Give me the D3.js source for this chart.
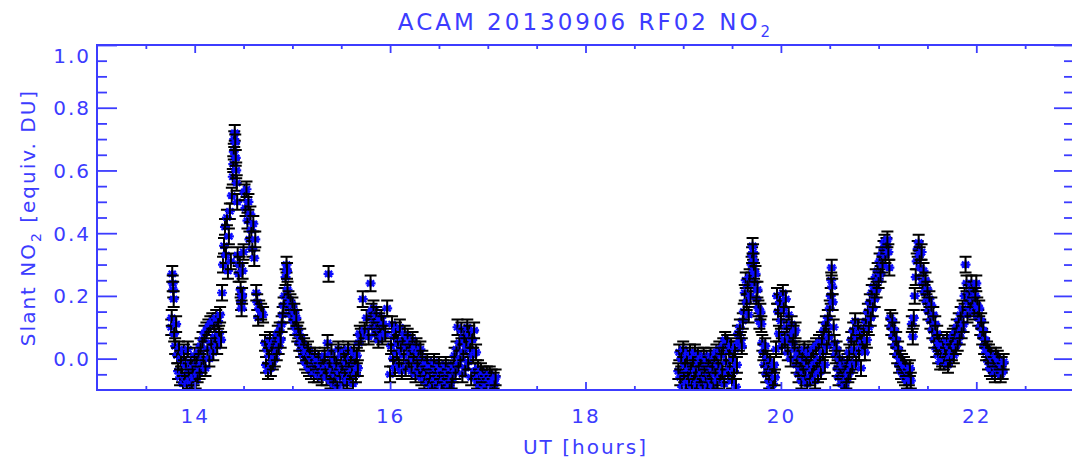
<!DOCTYPE html>
<html>
<head>
<meta charset="utf-8">
<script src="https://cdn.jsdelivr.net/npm/d3@7"></script>
<style>
  body { margin: 0; background: #fff; }
  svg { display: block; }
  text { font-family: "DejaVu Sans", sans-serif; fill: #3c3cff; }
</style>
</head>
<body>
<div id="container"></div>
<script>
// first flight leg (UT hours / slant NO2)
let utA = [
  13.76,13.765,13.77,13.775,13.78,13.785,13.79,13.80,13.81,13.82,
  13.83,13.84,13.85,13.86,13.87,13.88,13.89,13.90,13.91,13.92,
  13.93,13.94,13.95,13.96,13.97,13.98,13.99,14.00,14.01,14.02,
  14.03,14.04,14.05,14.06,14.07,14.08,14.09,14.10,14.11,14.12,
  14.13,14.14,14.15,14.16,14.17,14.18,14.19,14.20,14.21,14.22,
  14.23,14.24,14.25,14.26,14.27,14.28,14.29,14.30,14.31,14.32,
  14.33,14.34,14.35,14.36,14.37,14.38,14.39,14.395,14.40,14.405,
  14.41,14.415,14.42,14.425,14.43,14.435,14.44,14.45,14.46,14.47,
  14.475,14.48,14.485,14.49,14.50,14.51,14.52,14.53,14.54,14.55,
  14.56,14.57,14.58,14.59,14.60,14.61,14.62,14.63,14.64,14.65,
  14.66,14.68,14.70,14.72,14.73,14.74,14.75,14.76,14.77,14.78,
  14.79,14.80,14.81,14.82,14.83,14.84,14.85,14.86,14.87,14.88,
  14.89,14.90,14.91,14.92,14.93,14.94,14.945,14.95,14.96,14.97,
  14.98,14.99,15.00,15.01,15.02,15.03,15.04,15.05,15.06,15.07,
  15.08,15.09,15.10,15.11,15.12,15.13,15.14,15.15,15.16,15.17,
  15.18,15.19,15.20,15.21,15.22,15.23,15.24,15.25,15.26,15.27,
  15.28,15.29,15.30,15.31,15.32,15.33,15.34,15.35,15.36,15.37,
  15.38,15.39,15.40,15.41,15.42,15.43,15.44,15.45,15.46,15.47,
  15.48,15.49,15.50,15.51,15.52,15.53,15.54,15.55,15.56,15.57,
  15.58,15.59,15.60,15.61,15.62,15.63,15.64,15.65,15.66,15.67,
  15.68,15.69,15.70,15.72,15.74,15.76,15.78,15.80,15.81,15.82,
  15.83,15.84,15.85,15.86,15.87,15.88,15.89,15.90,15.91,15.92,
  15.93,15.95,15.97,16.00,16.01,16.02,16.03,16.04,16.05,16.06,
  16.07,16.08,16.09,16.10,16.11,16.12,16.13,16.14,16.15,16.16,
  16.17,16.18,16.19,16.20,16.21,16.22,16.23,16.24,16.25,16.26,
  16.27,16.28,16.29,16.30,16.31,16.32,16.33,16.34,16.35,16.36,
  16.37,16.38,16.39,16.40,16.41,16.42,16.43,16.44,16.45,16.46,
  16.47,16.48,16.49,16.50,16.51,16.52,16.53,16.54,16.55,16.56,
  16.57,16.58,16.59,16.60,16.61,16.62,16.63,16.64,16.65,16.66,
  16.67,16.68,16.69,16.70,16.71,16.72,16.73,16.74,16.75,16.76,
  16.77,16.78,16.79,16.80,16.81,16.82,16.83,16.84,16.85,16.86,
  16.87,16.88,16.89,16.90,16.91,16.92,16.93,16.94,16.95,16.96,
  16.97,16.98,16.99,17.00,17.01,17.02,17.03,17.04,17.05,17.06,
  17.07,17.08
];
let no2A = [
  0.10,0.13,0.27,0.24,0.22,0.19,0.08,0.04,0.11,0.01,
  -0.04,0.03,-0.06,0.00,-0.05,-0.08,0.02,-0.06,-0.02,-0.08,
  0.03,-0.04,-0.07,-0.01,-0.08,-0.03,-0.06,0.01,-0.07,-0.02,
  -0.05,0.02,-0.04,0.04,-0.02,0.06,0.00,0.08,-0.03,0.09,
  0.03,0.10,0.00,0.11,0.05,0.12,0.02,0.11,0.07,0.13,
  0.04,0.12,0.08,0.14,0.06,0.21,0.30,0.36,0.42,0.33,
  0.45,0.28,0.39,0.47,0.31,0.52,0.58,0.62,0.66,0.70,
  0.72,0.69,0.64,0.60,0.56,0.50,0.33,0.27,0.30,0.22,
  0.18,0.16,0.20,0.28,0.34,0.53,0.48,0.54,0.44,0.50,
  0.38,0.46,0.41,0.35,0.43,0.32,0.38,0.21,0.18,0.13,
  0.16,0.15,0.14,0.05,-0.02,0.03,-0.04,0.01,0.06,-0.03,
  0.04,-0.01,0.05,0.00,0.06,0.02,0.08,0.04,0.09,0.06,
  0.11,0.14,0.17,0.20,0.26,0.30,0.28,0.22,0.19,0.16,
  0.18,0.14,0.17,0.12,0.15,0.10,0.13,0.08,0.09,0.05,
  0.07,0.03,0.05,0.01,0.04,-0.01,0.02,-0.02,0.03,-0.03,
  0.01,-0.04,0.00,-0.02,-0.05,0.01,-0.03,-0.01,-0.05,0.00,
  -0.04,-0.02,-0.06,-0.01,-0.04,0.01,-0.03,-0.06,0.05,0.27,
  -0.02,-0.07,0.02,-0.04,-0.08,0.00,-0.05,-0.02,-0.09,0.03,
  -0.04,-0.06,0.01,-0.03,-0.08,0.02,-0.05,-0.01,-0.07,0.03,
  -0.03,-0.06,0.00,-0.04,-0.08,0.02,-0.02,-0.05,0.01,-0.03,
  0.05,0.08,0.07,0.19,0.09,0.13,0.07,0.24,0.15,0.10,
  0.16,0.12,0.08,0.14,0.10,0.06,0.12,0.09,0.13,0.07,
  0.11,0.08,0.16,-0.05,0.04,0.11,0.00,0.07,-0.03,0.09,
  0.02,0.05,-0.02,0.10,0.03,-0.04,0.06,0.01,0.08,-0.03,
  0.04,0.07,-0.01,0.05,0.02,-0.04,0.06,0.00,0.03,-0.05,
  0.04,-0.02,0.02,-0.04,0.03,-0.06,0.00,-0.03,-0.07,-0.02,
  -0.05,-0.01,-0.08,-0.03,-0.06,-0.02,-0.09,-0.04,-0.01,-0.07,
  -0.03,-0.05,-0.08,-0.02,-0.06,-0.04,-0.09,-0.03,-0.07,-0.05,
  -0.02,-0.08,-0.04,-0.06,-0.09,-0.03,-0.07,-0.05,-0.02,0.01,
  -0.04,0.03,0.10,-0.02,0.05,0.00,0.09,-0.05,0.02,0.07,
  -0.03,0.04,0.10,-0.01,0.08,0.03,-0.06,0.06,0.01,0.09,
  -0.04,0.02,-0.07,-0.03,-0.06,-0.09,-0.04,-0.07,-0.05,-0.09,
  -0.06,-0.08,-0.05,-0.09,-0.07,-0.05,-0.08,-0.06,-0.09,-0.07,
  -0.08,-0.06
];

// second flight leg
let utB = [
  18.95,18.96,18.97,18.98,18.99,19.00,19.01,19.02,19.03,19.04,
  19.05,19.06,19.07,19.08,19.09,19.10,19.11,19.12,19.13,19.14,
  19.15,19.16,19.17,19.18,19.19,19.20,19.21,19.22,19.23,19.24,
  19.25,19.26,19.27,19.28,19.29,19.30,19.31,19.32,19.33,19.34,
  19.35,19.36,19.37,19.38,19.39,19.40,19.41,19.42,19.43,19.44,
  19.45,19.46,19.47,19.48,19.49,19.50,19.51,19.52,19.53,19.54,
  19.55,19.56,19.57,19.58,19.59,19.60,19.61,19.62,19.63,19.64,
  19.65,19.66,19.67,19.68,19.69,19.70,19.705,19.71,19.715,19.72,
  19.725,19.73,19.74,19.75,19.76,19.77,19.78,19.79,19.80,19.81,
  19.82,19.83,19.84,19.85,19.86,19.87,19.88,19.89,19.90,19.91,
  19.92,19.93,19.94,19.95,19.96,19.97,19.98,19.99,20.00,20.01,
  20.02,20.03,20.04,20.05,20.06,20.07,20.08,20.09,20.10,20.11,
  20.12,20.13,20.14,20.15,20.16,20.17,20.18,20.19,20.20,20.21,
  20.22,20.23,20.24,20.25,20.26,20.27,20.28,20.29,20.30,20.31,
  20.32,20.33,20.34,20.35,20.36,20.37,20.38,20.39,20.40,20.41,
  20.42,20.43,20.44,20.45,20.46,20.47,20.48,20.49,20.50,20.51,
  20.515,20.52,20.525,20.53,20.54,20.55,20.56,20.57,20.58,20.59,
  20.60,20.61,20.62,20.63,20.64,20.65,20.66,20.67,20.68,20.69,
  20.70,20.71,20.72,20.73,20.74,20.75,20.76,20.77,20.78,20.79,
  20.80,20.81,20.82,20.83,20.84,20.85,20.86,20.87,20.88,20.89,
  20.90,20.91,20.92,20.93,20.94,20.95,20.96,20.97,20.98,20.99,
  21.00,21.01,21.02,21.03,21.04,21.05,21.06,21.07,21.08,21.09,
  21.10,21.11,21.12,21.13,21.14,21.15,21.16,21.17,21.18,21.19,
  21.20,21.21,21.22,21.23,21.24,21.25,21.26,21.27,21.28,21.29,
  21.30,21.31,21.32,21.33,21.34,21.35,21.36,21.37,21.38,21.39,
  21.40,21.41,21.42,21.43,21.44,21.45,21.46,21.47,21.48,21.49,
  21.50,21.51,21.52,21.53,21.54,21.55,21.56,21.57,21.58,21.59,
  21.60,21.61,21.62,21.63,21.64,21.65,21.66,21.67,21.68,21.69,
  21.70,21.71,21.72,21.73,21.74,21.75,21.76,21.77,21.78,21.79,
  21.80,21.81,21.82,21.83,21.84,21.85,21.86,21.87,21.88,21.89,
  21.90,21.91,21.92,21.93,21.94,21.95,21.96,21.97,21.98,21.99,
  22.00,22.01,22.02,22.03,22.04,22.05,22.06,22.07,22.08,22.09,
  22.10,22.11,22.12,22.13,22.14,22.15,22.16,22.17,22.18,22.19,
  22.20,22.21,22.22,22.23,22.24,22.25,22.26,22.27,22.28
];
let no2B = [
  -0.04,0.02,-0.06,0.00,-0.09,0.03,-0.05,-0.02,-0.08,0.01,
  -0.04,-0.07,0.02,-0.03,-0.09,0.00,-0.06,0.02,-0.04,-0.08,
  0.01,-0.02,-0.07,0.00,-0.05,-0.09,0.01,-0.03,-0.06,0.00,
  -0.08,-0.02,-0.05,0.01,-0.07,-0.03,-0.09,0.00,-0.05,0.02,
  -0.07,-0.02,0.03,-0.06,0.01,-0.04,0.04,-0.08,0.06,-0.01,
  0.05,-0.05,0.02,-0.03,0.04,-0.07,0.00,-0.04,0.03,-0.09,
  -0.02,0.08,0.05,0.10,0.06,0.04,0.12,0.15,0.21,0.25,
  0.18,0.23,0.14,0.26,0.20,0.30,0.33,0.36,0.34,0.31,
  0.28,0.24,0.27,0.19,0.22,0.16,0.12,0.15,0.11,0.05,
  0.02,-0.02,0.04,-0.05,0.00,-0.03,-0.07,-0.01,-0.09,-0.04,
  -0.08,-0.02,-0.06,0.03,0.20,0.15,0.08,0.18,0.12,0.04,
  0.21,0.16,0.06,0.19,0.10,0.02,0.14,0.07,0.00,0.11,
  0.05,0.08,0.03,0.09,-0.02,0.01,-0.05,0.02,-0.03,-0.07,
  0.00,-0.04,0.03,-0.06,-0.01,-0.08,0.02,-0.03,-0.06,0.01,
  -0.04,0.03,-0.02,-0.07,0.04,-0.01,-0.05,0.05,0.00,-0.04,
  0.06,0.02,0.09,-0.02,0.11,0.04,0.13,0.07,0.16,0.20,
  0.25,0.29,0.23,0.18,0.10,0.05,0.01,0.03,-0.03,-0.06,
  0.00,-0.04,-0.08,-0.02,-0.06,-0.09,-0.03,-0.07,-0.01,-0.05,
  0.02,-0.04,0.06,-0.02,0.09,0.03,0.12,-0.01,0.07,0.10,
  0.02,0.08,-0.03,0.05,0.04,0.09,0.02,0.12,0.06,0.15,
  0.10,0.18,0.13,0.21,0.16,0.23,0.19,0.26,0.22,0.28,
  0.25,0.31,0.27,0.33,0.30,0.35,0.37,0.33,0.36,0.38,
  0.34,0.29,0.13,0.10,0.12,0.07,0.09,0.04,0.06,0.01,
  0.03,-0.02,0.00,-0.04,-0.01,-0.05,-0.02,-0.06,-0.03,-0.07,
  -0.04,-0.06,-0.03,-0.07,0.11,0.07,0.13,0.20,0.26,0.31,
  0.35,0.37,0.33,0.29,0.34,0.24,0.28,0.21,0.25,0.18,
  0.22,0.15,0.19,0.12,0.17,0.09,0.14,0.06,0.11,0.03,
  0.08,0.01,0.05,-0.01,0.04,0.00,0.05,-0.01,0.03,0.01,
  0.06,-0.02,0.04,0.00,0.05,0.02,0.07,0.01,0.08,0.04,
  0.10,0.05,0.12,0.07,0.14,0.09,0.16,0.11,0.20,0.30,
  0.24,0.14,0.18,0.21,0.16,0.24,0.19,0.22,0.15,0.20,
  0.24,0.17,0.13,0.16,0.10,0.12,0.07,0.09,0.04,0.06,
  0.02,0.03,-0.01,0.02,-0.03,0.01,-0.04,0.00,-0.02,-0.05,
  0.01,-0.03,0.00,-0.04,-0.01,-0.05,-0.02,-0.04,-0.01
];
let no2Err = 0.025;

let xMajor = [14, 16, 18, 20, 22];
let yMajor = [0.0, 0.2, 0.4, 0.6, 0.8, 1.0];

let w = 1072;
let h = 460;
let plotLeft = 97, plotRight = 1074, plotTop = 45, plotBottom = 390;
let axisColor = "#3c3cff";

let viz = d3.select("#container")
  .append("svg")
    .attr("width", w)
    .attr("height", h)
;

let xScale = d3.scaleLinear().domain([13, 23]).range([plotLeft, plotRight]);
let yScale = d3.scaleLinear().domain([-0.1, 1.0]).range([plotBottom, plotTop]);

// build the point list from the two legs
let points = [];
utA.forEach((t, i) => { if (i < no2A.length) points.push({t: t, v: no2A[i]}); });
utB.forEach((t, i) => { if (i < no2B.length) points.push({t: t, v: no2B[i]}); });

viz.append("clipPath").attr("id", "plotClip")
  .append("rect")
    .attr("x", plotLeft).attr("y", plotTop)
    .attr("width", plotRight - plotLeft).attr("height", plotBottom - plotTop);

let graphGroup = viz.append("g").classed("graphGroup", true).attr("clip-path", "url(#plotClip)");

let star = "M-5,0H5M0,-4V4M-3.6,-3L3.6,3M-3.6,3L3.6,-3";

let dots = graphGroup.selectAll(".datapoint").data(points).enter()
  .append("g")
    .classed("datapoint", true)
    .attr("transform", d => "translate(" + xScale(d.t) + "," + yScale(d.v) + ")");

dots.append("path")
  .attr("d", star)
  .attr("stroke", "#0a0aff")
  .attr("stroke-width", 2.2)
  .attr("fill", "none");

dots.append("path")
  .attr("d", function(d){
    let up = yScale(d.v + no2Err) - yScale(d.v);
    let dn = yScale(d.v - no2Err) - yScale(d.v);
    return "M-6," + up + "H6M0," + up + "V" + dn + "M-6," + dn + "H6";
  })
  .attr("stroke", "black")
  .attr("stroke-width", 2)
  .attr("fill", "none");

// axes: major + minor ticks on all four sides
function styleAxis(g){
  g.select(".domain").remove();
  g.selectAll("line").attr("stroke", axisColor).attr("stroke-width", 1.8);
  g.selectAll("text").attr("fill", axisColor).attr("font-size", 20)
    .attr("font-family", "DejaVu Sans, sans-serif").style("letter-spacing", "2px");
}

let xMinor = d3.range(13.5, 23, 0.5).filter(v => xMajor.indexOf(v) < 0);
let yMinor = d3.range(-0.05, 1.0, 0.05).map(v => Math.round(v * 100) / 100).filter(v => yMajor.indexOf(v) < 0);

let xAxisGroup = viz.append("g").attr("transform", "translate(0," + plotBottom + ")")
  .call(d3.axisBottom(xScale).tickValues(xMajor).tickSize(-8).tickSizeOuter(0).tickPadding(19).tickFormat(d3.format("d")));
styleAxis(xAxisGroup);
styleAxis(viz.append("g").attr("transform", "translate(0," + plotBottom + ")")
  .call(d3.axisBottom(xScale).tickValues(xMinor).tickSize(-4).tickSizeOuter(0).tickFormat("")));
styleAxis(viz.append("g").attr("transform", "translate(0," + plotTop + ")")
  .call(d3.axisTop(xScale).tickValues(xMajor).tickSize(-8).tickSizeOuter(0).tickFormat("")));
styleAxis(viz.append("g").attr("transform", "translate(0," + plotTop + ")")
  .call(d3.axisTop(xScale).tickValues(xMinor).tickSize(-4).tickSizeOuter(0).tickFormat("")));

let yAxisGroup = viz.append("g").attr("transform", "translate(" + plotLeft + ",0)")
  .call(d3.axisLeft(yScale).tickValues(yMajor).tickSize(-20).tickSizeOuter(0).tickPadding(6).tickFormat(d3.format(".1f")));
styleAxis(yAxisGroup);
// the top label sits a little below its tick, as in the original
yAxisGroup.selectAll(".tick text").attr("dy", d => d >= 1.0 ? "0.85em" : "0.35em");
styleAxis(viz.append("g").attr("transform", "translate(" + plotLeft + ",0)")
  .call(d3.axisLeft(yScale).tickValues(yMinor).tickSize(-10).tickSizeOuter(0).tickFormat("")));
styleAxis(viz.append("g").attr("transform", "translate(" + plotRight + ",0)")
  .call(d3.axisRight(yScale).tickValues(yMajor).tickSize(-20).tickSizeOuter(0).tickFormat("")));
styleAxis(viz.append("g").attr("transform", "translate(" + plotRight + ",0)")
  .call(d3.axisRight(yScale).tickValues(yMinor).tickSize(-10).tickSizeOuter(0).tickFormat("")));

// frame
viz.append("rect")
  .attr("x", plotLeft).attr("y", plotTop)
  .attr("width", plotRight - plotLeft).attr("height", plotBottom - plotTop)
  .attr("fill", "none").attr("stroke", axisColor).attr("stroke-width", 2);

// titles
let title = viz.append("text")
  .attr("x", (plotLeft + plotRight) / 2).attr("y", 30)
  .attr("text-anchor", "middle").attr("font-size", 23)
  .style("letter-spacing", "3px");
title.append("tspan").text("ACAM 20130906 RF02 NO");
title.append("tspan").attr("font-size", 15).attr("dy", 7).text("2");

viz.append("text")
  .attr("x", (plotLeft + plotRight) / 2).attr("y", 454)
  .attr("text-anchor", "middle").attr("font-size", 20)
  .style("letter-spacing", "2px")
  .text("UT [hours]");

let yTitle = viz.append("text")
  .attr("transform", "translate(35," + (plotTop + plotBottom) / 2 + ") rotate(-90)")
  .attr("text-anchor", "middle").attr("font-size", 20)
  .style("letter-spacing", "2px");
yTitle.append("tspan").text("Slant NO");
yTitle.append("tspan").attr("font-size", 14).attr("dy", 6).text("2");
yTitle.append("tspan").attr("dy", -6).text(" [equiv. DU]");
</script>
</body>
</html>
